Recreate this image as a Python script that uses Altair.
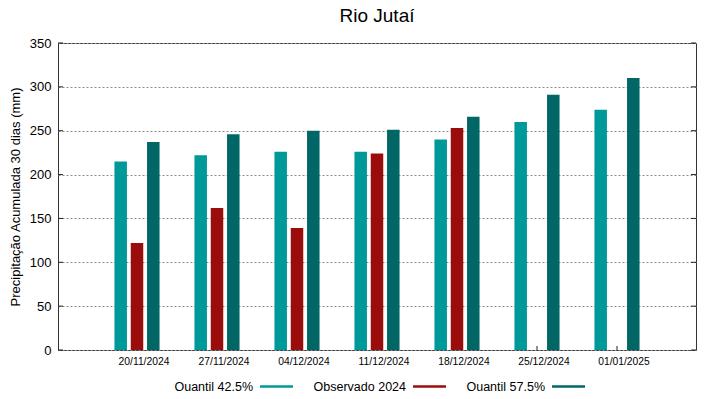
import altair as alt
import pandas as pd

dates = ["20/11/2024", "27/11/2024", "04/12/2024", "11/12/2024",
         "18/12/2024", "25/12/2024", "01/01/2025"]
q425 = [215, 222, 226, 226, 240, 260, 274]
obs = [122, 162, 139, 224, 253, None, None]
q575 = [237, 246, 250, 251, 266, 291, 310]
series = ["Quantil 42.5%", "Observado 2024", "Quantil 57.5%"]
colors = ["#009999", "#9b0d0d", "#006666"]
yticks = [0, 50, 100, 150, 200, 250, 300, 350]

rows = []
for i, d in enumerate(dates):
    for s, vals in zip(series, [q425, obs, q575]):
        if vals[i] is not None:
            rows.append({"data": d, "serie": s, "valor": vals[i]})
df = pd.DataFrame(rows)
df_ticks = pd.DataFrame({"v": yticks})
df_x = pd.DataFrame({"data": dates})

W, H = 638, 307

xscale = alt.Scale(domain=dates, paddingInner=0, paddingOuter=0.4875)
yscale = alt.Scale(domain=[0, 350], nice=False)

bars = alt.Chart(df).mark_bar().encode(
    x=alt.X("data:N", scale=xscale, sort=dates,
            axis=alt.Axis(title=None, labelAngle=0, labelAlign="center", labelFontSize=10.3,
                          labelPadding=11, labelOffset=7, ticks=False, domain=False, grid=False,
                          labelColor="#000", labelFont="Liberation Sans")),
    xOffset=alt.XOffset("serie:N", scale=alt.Scale(domain=series, range=[17.45, 62.55],
                                                   paddingInner=0.233, paddingOuter=0), sort=series),
    y=alt.Y("valor:Q", scale=yscale,
            axis=alt.Axis(title="Precipitação Acumulada 30 dias (mm)", values=yticks,
                          labelFontSize=13, labelPadding=7, ticks=False, domain=False,
                          grid=True, gridDash=[2, 2], gridColor="#8a8a8a", gridWidth=1,
                          labelColor="#000", titleColor="#000", titleFontSize=13,
                          titleFontWeight="normal", titlePadding=7,
                          labelFont="Liberation Sans", titleFont="Liberation Sans")),
    color=alt.Color("serie:N", scale=alt.Scale(domain=series, range=colors), sort=series,
                    legend=alt.Legend(title=None, orient="none", legendX=202, legendY=327,
                                      direction="horizontal",
                                      symbolType="M-1,-0.07H1V0.07H-1Z", symbolSize=1089,
                                      symbolStrokeWidth=0,
                                      labelFontSize=12.5, labelFont="Liberation Sans",
                                      labelColor="#000", labelAlign="right",
                                      labelOffset={"expr": "-40"},
                                      columnPadding=20)),
)

lticks = alt.Chart(df_ticks).mark_rule(color="#222", strokeWidth=1).encode(
    y=alt.Y("v:Q", scale=yscale), x=alt.value(0), x2=alt.value(5))
rticks = alt.Chart(df_ticks).mark_rule(color="#222", strokeWidth=1).encode(
    y=alt.Y("v:Q", scale=yscale), x=alt.value(W - 5), x2=alt.value(W))
bticks = alt.Chart(df_x).mark_rule(color="#222", strokeWidth=1).encode(
    x=alt.X("data:N", scale=xscale, sort=dates), y=alt.value(H - 4), y2=alt.value(H))

chart = alt.layer(lticks, rticks, bticks, bars).properties(
    width=W, height=H,
    background="white",
    title=alt.TitleParams("Rio Jutaí", fontSize=19, font="Liberation Sans",
                          fontWeight="normal", color="#000", anchor="middle",
                          orient="top", offset=11),
    autosize=alt.AutoSizeParams(type="none"),
    padding={"left": 50, "top": 35, "right": 15, "bottom": 41},
).configure_view(stroke="#333", strokeWidth=1)

chart.save("out.html", embed_options={"renderer": "svg", "actions": False})
